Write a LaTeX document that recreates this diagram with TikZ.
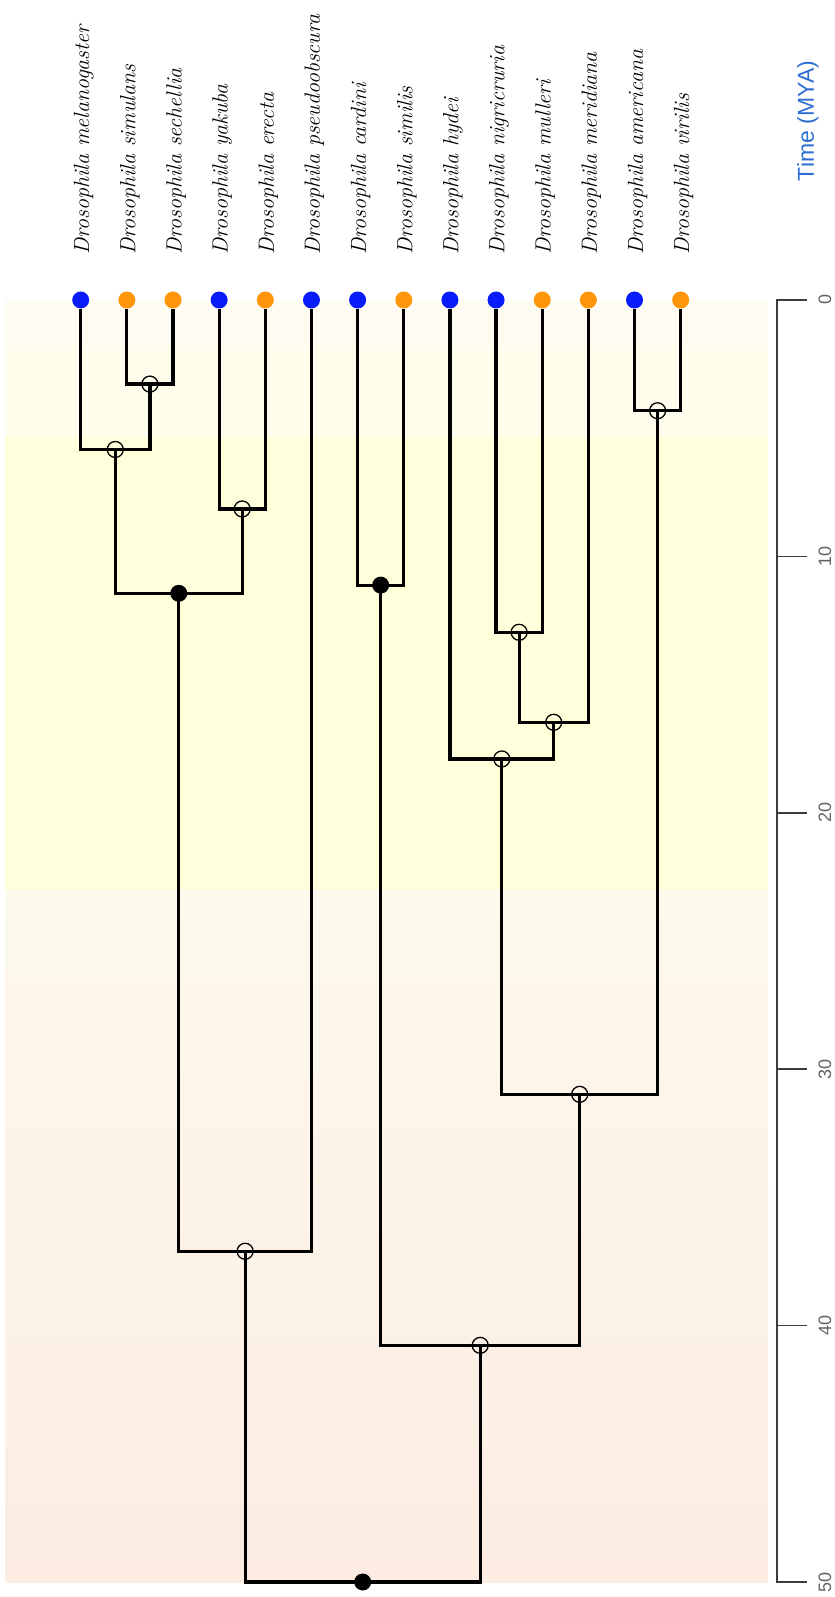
\documentclass[tikz,border=0pt]{standalone}
\usepackage{fontspec}
\setsansfont{Liberation Sans}
\definecolor{tipblue}{RGB}{8,28,250}
\definecolor{tiporange}{RGB}{255,150,10}
\definecolor{pleist}{RGB}{254,251,242}
\definecolor{plio}{RGB}{255,253,236}
\definecolor{mio}{RGB}{255,255,220}
\definecolor{paleotop}{RGB}{253,249,237}
\definecolor{paleobot}{RGB}{252,236,226}
\definecolor{axisgray}{RGB}{60,60,60}
\definecolor{tickgray}{RGB}{100,100,100}
\definecolor{timeblue}{RGB}{45,110,210}
\newcommand\taxfont{\fontsize{22}{24}\selectfont\itshape}
\tikzset{
  tip/.style={circle, inner sep=0pt, minimum size=17pt},
  split/.style={circle, draw, line width=1.3pt, inner sep=0pt, minimum size=16pt},
  dated/.style={circle, fill=black, inner sep=0pt, minimum size=17pt},
  taxon/.style={xshift=3pt, rotate=90, anchor=west, inner sep=0pt, font=\taxfont},
  ticklab/.style={rotate=90, text=tickgray, font=\sffamily\fontsize{18}{20}\selectfont},
  branch/.style={line width=3.2pt},
}
\begin{document}
\begin{tikzpicture}[x=1pt, y=-25.64pt]
\useasboundingbox (0,-11.70) rectangle (834,50.585);
% epochs
\fill[pleist] (5,0) rectangle (768,1.8);
\fill[plio] (5,1.8) rectangle (768,5.33);
\fill[mio] (5,5.33) rectangle (768,23.03);
\shade[top color=paleotop, bottom color=paleobot] (5,23.03) rectangle (768,50);
% time axis
\draw[axisgray, line width=1.5pt] (807,0) -- (777,0) -- (777,50) -- (807,50);
\draw[axisgray, line width=1.5pt] (777,10) -- (807,10);
\draw[axisgray, line width=1.5pt] (777,20) -- (807,20);
\draw[axisgray, line width=1.5pt] (777,30) -- (807,30);
\draw[axisgray, line width=1.5pt] (777,40) -- (807,40);
\node[ticklab] (L_0) at (825,0) {0};
\node[ticklab] (L_10) at (825,10) {10};
\node[ticklab] (L_20) at (825,20) {20};
\node[ticklab] (L_30) at (825,30) {30};
\node[ticklab] (L_40) at (825,40) {40};
\node[ticklab] (L_50) at (825,50) {50};
\node[rotate=90, text=timeblue, font=\sffamily\fontsize{23}{26}\selectfont] (T_axis) at (808,-6.98) {Time (MYA)};
% species
\node[tip, fill=tipblue] (T_mel) at (80.7,0) {};
\node[taxon] (S_mel) at (80.7,-1.755) {Drosophila melanogaster};
\node[tip, fill=tiporange] (T_sim) at (126.85,0) {};
\node[taxon] (S_sim) at (126.85,-1.755) {Drosophila simulans};
\node[tip, fill=tiporange] (T_sec) at (173,0) {};
\node[taxon] (S_sec) at (173,-1.755) {Drosophila sechellia};
\node[tip, fill=tipblue] (T_yak) at (219.15,0) {};
\node[taxon] (S_yak) at (219.15,-1.755) {Drosophila yakuba};
\node[tip, fill=tiporange] (T_ere) at (265.3,0) {};
\node[taxon] (S_ere) at (265.3,-1.755) {Drosophila erecta};
\node[tip, fill=tipblue] (T_pse) at (311.45,0) {};
\node[taxon] (S_pse) at (311.45,-1.755) {Drosophila pseudoobscura};
\node[tip, fill=tipblue] (T_car) at (357.6,0) {};
\node[taxon] (S_car) at (357.6,-1.755) {Drosophila cardini};
\node[tip, fill=tiporange] (T_sml) at (403.75,0) {};
\node[taxon] (S_sml) at (403.75,-1.755) {Drosophila similis};
\node[tip, fill=tipblue] (T_hyd) at (449.9,0) {};
\node[taxon] (S_hyd) at (449.9,-1.755) {Drosophila hydei};
\node[tip, fill=tipblue] (T_nig) at (496.05,0) {};
\node[taxon] (S_nig) at (496.05,-1.755) {Drosophila nigricruria};
\node[tip, fill=tiporange] (T_mul) at (542.2,0) {};
\node[taxon] (S_mul) at (542.2,-1.755) {Drosophila mulleri};
\node[tip, fill=tiporange] (T_mer) at (588.35,0) {};
\node[taxon] (S_mer) at (588.35,-1.755) {Drosophila meridiana};
\node[tip, fill=tipblue] (T_ame) at (634.5,0) {};
\node[taxon] (S_ame) at (634.5,-1.755) {Drosophila americana};
\node[tip, fill=tiporange] (T_vir) at (680.65,0) {};
\node[taxon] (S_vir) at (680.65,-1.755) {Drosophila virilis};
% splits
\node[split] (N_1) at (149.9,3.28) {};
\node[split] (N_2) at (115.3,5.83) {};
\node[split] (N_3) at (242.2,8.15) {};
\node[dated] (N_4) at (178.8,11.44) {};
\node[split] (N_5) at (245.1,37.1) {};
\node[dated] (N_6) at (380.7,11.12) {};
\node[split] (N_7) at (519.1,12.96) {};
\node[split] (N_8) at (553.7,16.47) {};
\node[split] (N_9) at (501.8,17.9) {};
\node[split] (N_10) at (657.6,4.32) {};
\node[split] (N_11) at (579.7,30.98) {};
\node[split] (N_12) at (480.2,40.77) {};
\node[dated] (N_13) at (362.7,50) {};
\draw[branch] (T_sim) |- (N_1.center) -| (T_sec);
\draw[branch] (T_mel) |- (N_2.center) -| (N_1.center);
\draw[branch] (T_yak) |- (N_3.center) -| (T_ere);
\draw[branch] (N_2.center) |- (N_4.center) -| (N_3.center);
\draw[branch] (N_4.center) |- (N_5.center) -| (T_pse);
\draw[branch] (T_car) |- (N_6.center) -| (T_sml);
\draw[branch] (T_nig) |- (N_7.center) -| (T_mul);
\draw[branch] (N_7.center) |- (N_8.center) -| (T_mer);
\draw[branch] (T_hyd) |- (N_9.center) -| (N_8.center);
\draw[branch] (T_ame) |- (N_10.center) -| (T_vir);
\draw[branch] (N_9.center) |- (N_11.center) -| (N_10.center);
\draw[branch] (N_6.center) |- (N_12.center) -| (N_11.center);
\draw[branch] (N_5.center) |- (N_13.center) -| (N_12.center);
\end{tikzpicture}
\end{document}
